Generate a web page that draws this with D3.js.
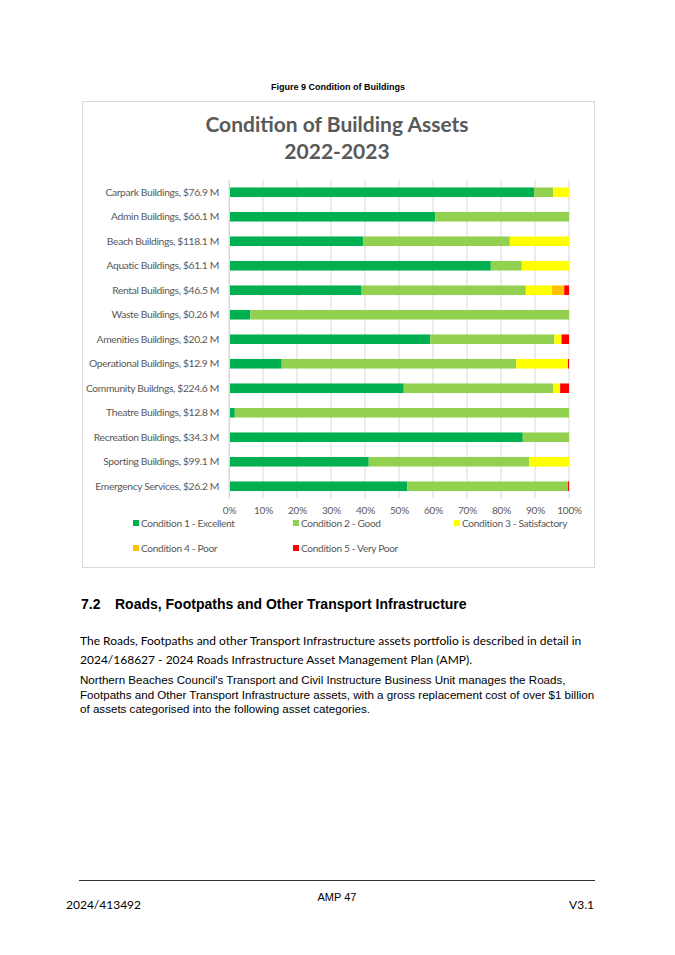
<!DOCTYPE html>
<html lang="en">
<head>
<meta charset="UTF-8">
<title>Condition of Buildings</title>
<script src="https://d3js.org/d3.v7.min.js"></script>
<style>
	html, body { margin: 0; padding: 0; background: #fff; }
	body { width: 675px; height: 955px; position: relative; overflow: hidden; }
	svg text { font-family: 'Lato', 'Open Sans', sans-serif; }
	.arial { font-family: 'Liberation Sans', Arial, sans-serif !important; }
</style>
</head>
<body>
<div id="page"></div>
<script>
	// categories, top to bottom
	var categories = [
		'Carpark Buildings, $76.9 M',
		'Admin Buildings, $66.1 M',
		'Beach Buildings, $118.1 M',
		'Aquatic Buildings, $61.1 M',
		'Rental Buildings, $46.5 M',
		'Waste Buildings, $0.26 M',
		'Amenities Buildings, $20.2 M',
		'Operational Buildings, $12.9 M',
		'Community Buildngs, $224.6 M',
		'Theatre Buildings, $12.8 M',
		'Recreation Buildings, $34.3 M',
		'Sporting Buildings, $99.1 M',
		'Emergency Services, $26.2 M'
	];

	var conditions = ['Condition 1 - Excellent', 'Condition 2 - Good', 'Condition 3 - Satisfactory',
		'Condition 4 - Poor', 'Condition 5 - Very Poor'];
	var colours = ['#00b050', '#92d050', '#ffff00', '#ffc000', '#ff0000'];

	// share (%) per condition, same order as categories
	var cond1 = [89.8, 60.7, 39.4, 77.0, 39.0, 6.3, 59.2, 15.5, 51.4, 1.7, 86.4, 41.1, 52.4];
	var cond2 = [5.5, 39.3, 43.2, 9.1, 48.3, 93.7, 36.5, 69.0, 43.9, 98.3, 13.6, 47.2, 47.3];
	var cond3 = [4.7, 0, 17.4, 13.9, 7.7, 0, 2.1, 15.2, 2.1, 0, 0, 11.7, 0];
	var cond4 = [0, 0, 0, 0, 3.6, 0, 0, 0, 0, 0, 0, 0, 0];
	var cond5 = [0, 0, 0, 0, 1.4, 0, 2.2, 0.3, 2.6, 0, 0, 0, 0.3];

	var tickLabels = ['0%', '10%', '20%', '30%', '40%', '50%', '60%', '70%', '80%', '90%', '100%'];

	var series = [cond1, cond2, cond3, cond4, cond5];
	var rows = categories.map(function(c, i) {
		var r = { name: c };
		conditions.forEach(function(k, j) { r[k] = series[j][i]; });
		return r;
	});
	var stacked = d3.stack().keys(conditions)(rows);

	var svg = d3.select('#page').append('svg')
		.attr('width', 675)
		.attr('height', 955);

	// figure caption
	svg.append('text')
		.attr('class', 'arial')
		.attr('x', 338).attr('y', 90)
		.attr('text-anchor', 'middle')
		.attr('font-size', 9).attr('font-weight', 'bold')
		.text('Figure 9 Condition of Buildings');

	// chart frame
	svg.append('rect')
		.attr('x', 82.5).attr('y', 101.5)
		.attr('width', 512).attr('height', 466)
		.attr('fill', '#fff')
		.attr('stroke', '#d9d9d9');

	svg.append('text')
		.attr('x', 337).attr('y', 132)
		.attr('text-anchor', 'middle')
		.attr('font-size', 21).attr('font-weight', 'bold')
		.attr('fill', '#595959')
		.text('Condition of Building Assets');
	svg.append('text')
		.attr('x', 337).attr('y', 159)
		.attr('text-anchor', 'middle')
		.attr('font-size', 21).attr('font-weight', 'bold')
		.attr('fill', '#595959')
		.text('2022-2023');

	var x = d3.scaleLinear().domain([0, 100]).range([229, 569]);
	var y = d3.scaleBand().domain(categories).range([180, 498.5]).paddingInner(0.61).paddingOuter(0.305);

	// gridlines
	svg.append('g')
		.selectAll('line')
		.data(d3.range(0, 101, 10))
		.enter().append('line')
		.attr('x1', function(d) { return x(d); })
		.attr('x2', function(d) { return x(d); })
		.attr('y1', 180).attr('y2', 498.5)
		.attr('stroke', '#d9d9d9')
		.attr('stroke-width', 1);

	// bars
	svg.append('g')
		.selectAll('g')
		.data(stacked)
		.enter().append('g')
		.attr('fill', function(d, i) { return colours[i]; })
		.selectAll('rect')
		.data(function(d) { return d; })
		.enter().append('rect')
		.attr('x', function(d) { return x(d[0]); })
		.attr('width', function(d) { return Math.max(0, x(d[1]) - x(d[0])); })
		.attr('y', function(d) { return y(d.data.name); })
		.attr('height', y.bandwidth());

	// category axis
	var yAxis = svg.append('g')
		.attr('transform', 'translate(229,0)')
		.call(d3.axisLeft(y).tickSize(0).tickPadding(10));
	yAxis.select('.domain').attr('stroke', '#d9d9d9');
	yAxis.selectAll('text')
		.attr('font-family', 'Lato, sans-serif')
		.attr('font-size', 10.3)
		.attr('letter-spacing', -0.35)
		.attr('fill', '#595959');

	// value axis
	var xAxis = svg.append('g')
		.attr('transform', 'translate(0,498.5)')
		.call(d3.axisBottom(x).tickValues(d3.range(0, 101, 10))
			.tickFormat(function(d, i) { return tickLabels[i]; })
			.tickSize(0).tickPadding(8));
	xAxis.select('.domain').remove();
	xAxis.selectAll('text')
		.attr('font-family', 'Lato, sans-serif')
		.attr('font-size', 10)
		.attr('letter-spacing', -0.2)
		.attr('fill', '#595959');

	// legend
	var legendPos = [[133, 523], [293, 523], [454, 523], [133, 548], [293, 548]];
	var legend = svg.append('g')
		.selectAll('g')
		.data(conditions)
		.enter().append('g')
		.attr('transform', function(d, i) { return 'translate(' + legendPos[i][0] + ',' + legendPos[i][1] + ')'; });
	legend.append('rect')
		.attr('x', 0).attr('y', -3)
		.attr('width', 6).attr('height', 6)
		.attr('fill', function(d, i) { return colours[i]; });
	legend.append('text')
		.attr('x', 8).attr('y', 3.5)
		.attr('font-size', 10.2)
		.attr('letter-spacing', -0.35)
		.attr('fill', '#595959')
		.text(function(d) { return d; });

	// body text below the chart
	svg.append('text')
		.attr('class', 'arial')
		.attr('x', 81).attr('y', 609)
		.attr('font-size', 14).attr('font-weight', 'bold')
		.attr('fill', '#000')
		.text('7.2');
	svg.append('text')
		.attr('class', 'arial')
		.attr('x', 115).attr('y', 609)
		.attr('font-size', 14).attr('font-weight', 'bold')
		.attr('fill', '#000')
		.text('Roads, Footpaths and Other Transport Infrastructure');

	var para1 = ['The Roads, Footpaths and other Transport Infrastructure assets portfolio is described in detail in',
		'2024/168627 - 2024 Roads Infrastructure Asset Management Plan (AMP).'];
	svg.append('g').selectAll('text')
		.data(para1)
		.enter().append('text')
		.attr('x', 80)
		.attr('y', function(d, i) { return 645 + i * 18.5; })
		.attr('font-size', 12)
		.attr('fill', '#000')
		.text(function(d) { return d; });

	var para2 = ["Northern Beaches Council's Transport and Civil Instructure Business Unit manages the Roads,",
		'Footpaths and Other Transport Infrastructure assets, with a gross replacement cost of over $1 billion',
		'of assets categorised into the following asset categories.'];
	svg.append('g').selectAll('text')
		.data(para2)
		.enter().append('text')
		.attr('class', 'arial')
		.attr('x', 80)
		.attr('y', function(d, i) { return 684 + i * 14.5; })
		.attr('font-size', 11.6)
		.attr('fill', '#000')
		.text(function(d) { return d; });

	// footer
	svg.append('line')
		.attr('x1', 79).attr('x2', 595)
		.attr('y1', 880.5).attr('y2', 880.5)
		.attr('stroke', '#000').attr('stroke-width', 0.8);
	svg.append('text')
		.attr('class', 'arial')
		.attr('x', 337).attr('y', 901)
		.attr('text-anchor', 'middle')
		.attr('font-size', 11)
		.text('AMP 47');
	svg.append('text')
		.attr('x', 66).attr('y', 909)
		.attr('font-size', 12)
		.text('2024/413492');
	svg.append('text')
		.attr('x', 594).attr('y', 909)
		.attr('text-anchor', 'end')
		.attr('font-size', 12)
		.text('V3.1');
</script>
</body>
</html>
